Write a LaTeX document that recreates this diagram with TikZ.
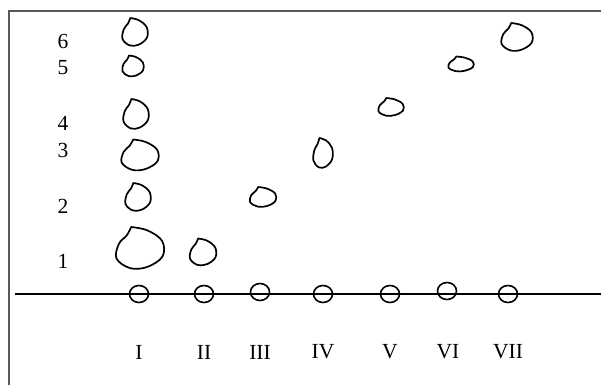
\documentclass[tikz,border=0pt]{standalone}
\usepackage{fontspec}
\setmainfont{Liberation Serif}
\usetikzlibrary{positioning,shapes.geometric}

\tikzset{
  frame/.style={draw=black!65, line width=1.6pt},
  axis/.style={line width=1.9pt},
  blob/.style={line width=1.7pt, line join=round, line cap=round},
  axmark/.style={ellipse, draw, line width=1.6pt, inner sep=0pt,
    minimum width=19pt, minimum height=17pt},
  level/.style={font=\fontsize{21.5}{21.5}\selectfont, inner sep=0pt},
  stage/.style={font=\fontsize{21.5}{21.5}\selectfont, inner sep=0pt},
}
% hand-drawn blob: centre x, centre y, width, height
\newcommand{\blob}[4]{%
  \draw[blob, shift={(#1,#2)}, xscale=#3, yscale=#4]
    plot[smooth, tension=0.6] coordinates {(-0.18,-0.5) (0.15,-0.42)
      (0.45,-0.17) (0.46,0.2) (0.15,0.45) (-0.2,0.48) (-0.48,0.25)
      (-0.43,-0.1) (-0.27,-0.3) (-0.18,-0.5)};}

\begin{document}
\begin{tikzpicture}[x=1pt, y=-1pt]
\useasboundingbox (0,0) rectangle (601,385);
\draw[frame] (9,385) -- (9,11) -- (601,11);

% levels
\node[level] (n6) at (63,41.5) {6};
\node[level] (n5) at (63,67.5) {5};
\node[level] (n4) at (63,123) {4};
\node[level] (n3) at (63,150) {3};
\node[level] (n2) at (63,206) {2};
\node[level] (n1) at (63,261) {1};

% baseline
\coordinate (axL) at (15,294);
\coordinate (axR) at (601,294);
\draw[axis] (axL) -- (axR);

\node[axmark] (s1) at (139,294) {};
\node[axmark] (s2) at (204,294) {};
\node[axmark] (s3) at (260,292) {};
\node[axmark] (s4) at (323,294) {};
\node[axmark] (s5) at (390,294) {};
\node[axmark] (s6) at (447,291) {};
\node[axmark] (s7) at (508,294) {};

\node[stage] (r1) at (139,352) {I};
\node[stage] (r2) at (204,352) {II};
\node[stage] (r3) at (260,352) {III};
\node[stage] (r4) at (323,352) {IV};
\node[stage] (r5) at (390,352) {V};
\node[stage] (r6) at (448,352) {VI};
\node[stage] (r7) at (508,352) {VII};

% column I
\blob{135}{32}{26}{28}
\blob{133}{66}{22}{21}
\blob{136}{114}{26}{30}
\blob{140}{155}{38}{31}
\blob{138}{197}{26}{28}
\blob{140}{248}{49}{42}
% rising row
\blob{203}{252}{27}{27}
\blob{263}{197}{27}{20}
\blob{323}{153}{20}{30}
\blob{391}{107}{26}{18}
\blob{461}{64}{26}{15}
\blob{517}{37}{32}{28}
\end{tikzpicture}
\end{document}
